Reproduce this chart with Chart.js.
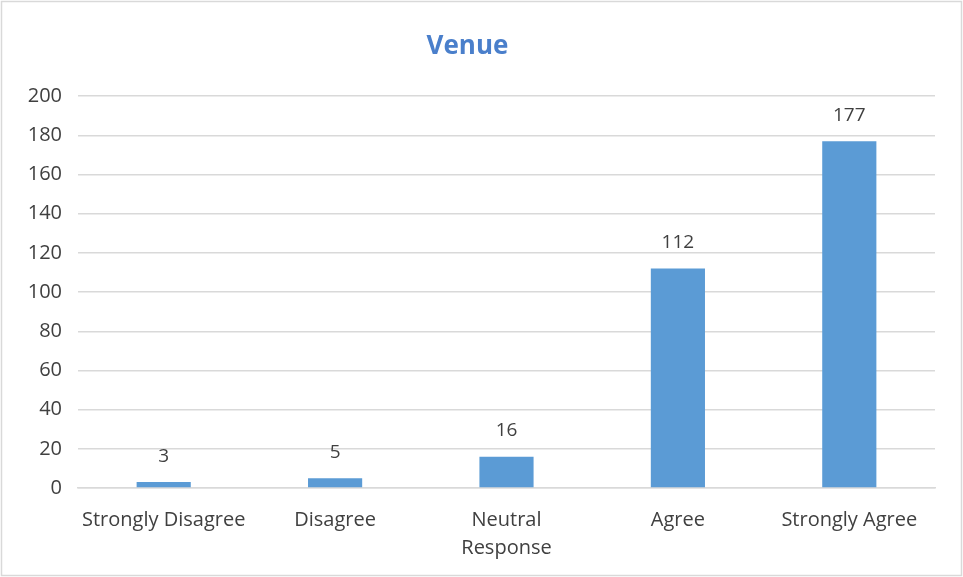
<!DOCTYPE html>
<html>
<head>
<meta charset="utf-8">
<script src="https://cdn.jsdelivr.net/npm/chart.js@4/dist/chart.umd.min.js"></script>
<style>
  html, body { margin: 0; padding: 0; background: #fff; }
  #wrap { position: relative; width: 963px; height: 577px; }
</style>
</head>
<body>
<div id="wrap"><canvas id="mainChart"></canvas></div>
<script>
const categories = ['Strongly Disagree', 'Disagree', ['Neutral', 'Response'], 'Agree', 'Strongly Agree'];
const venueCounts = [3, 5, 16, 112, 177];
const yTicks = [0, 20, 40, 60, 80, 100, 120, 140, 160, 180, 200];

const FONT = '"Open Sans", "Noto Sans", sans-serif';

// value labels above each bar
const barLabels = {
    id: 'barLabels',
    afterDatasetsDraw(chart) {
        const ctx = chart.ctx;
        const meta = chart.getDatasetMeta(0);
        ctx.save();
        ctx.font = '19px ' + FONT;
        ctx.fillStyle = '#404040';
        ctx.textAlign = 'center';
        ctx.textBaseline = 'middle';
        meta.data.forEach((bar, i) => {
            ctx.fillText(String(venueCounts[i]), bar.x, bar.y - 26);
        });
        ctx.restore();
    }
};

// outer frame of the chart
const frame = {
    id: 'frame',
    beforeDraw(chart) {
        const ctx = chart.ctx;
        ctx.save();
        ctx.fillStyle = '#fff';
        ctx.fillRect(0, 0, chart.width, chart.height);
        ctx.strokeStyle = '#d9d9d9';
        ctx.lineWidth = 1.5;
        ctx.strokeRect(1.5, 1.5, chart.width - 3, chart.height - 3);
        ctx.restore();
    }
};

const ctx = document.getElementById('mainChart').getContext('2d');
new Chart(ctx, {
    type: 'bar',
    data: {
        labels: categories,
        datasets: [{
            label: 'Venue',
            data: venueCounts,
            backgroundColor: '#5b9bd5',
            borderWidth: 0,
            barPercentage: 1,
            categoryPercentage: 0.316
        }]
    },
    options: {
        responsive: true,
        maintainAspectRatio: false,
        animation: false,
        layout: { padding: { top: 31, right: 28, bottom: 0, left: 0 } },
        scales: {
            x: {
                afterFit: axis => { axis.height = 89; },
                grid: { display: false, drawTicks: false },
                border: { display: true, color: '#d9d9d9', width: 1.5 },
                ticks: { color: '#404040', font: { size: 20, family: FONT, lineHeight: 1.4 }, padding: 18, maxRotation: 0, autoSkip: false }
            },
            y: {
                min: 0,
                max: 200,
                afterBuildTicks: axis => { axis.ticks = yTicks.map(v => ({ value: v })); },
                afterFit: axis => { axis.width = 78; },
                grid: { color: '#d9d9d9', lineWidth: 1.5, drawTicks: false },
                border: { display: false },
                ticks: { color: '#404040', font: { size: 20, family: FONT }, padding: 16 }
            }
        },
        plugins: {
            legend: { display: false },
            tooltip: { enabled: false },
            title: {
                display: true,
                text: 'Venue',
                color: '#4a7fcb',
                font: { size: 26, weight: 'bold', family: FONT },
                padding: { top: 0, bottom: 34 }
            }
        }
    },
    plugins: [frame, barLabels]
});
</script>
</body>
</html>
